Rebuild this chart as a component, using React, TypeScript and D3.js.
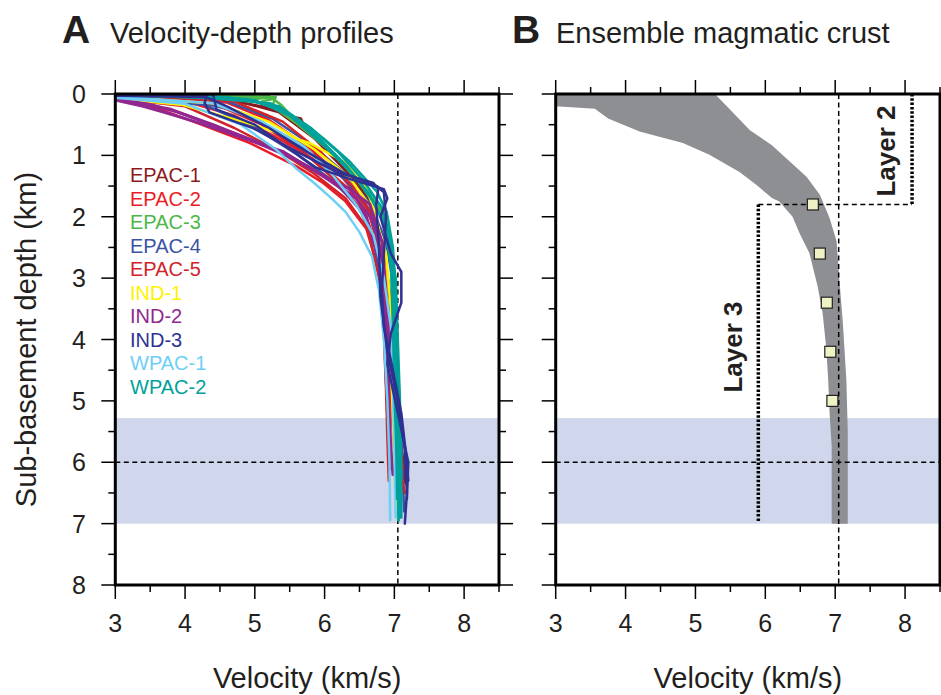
import React from 'react';
import * as d3 from 'd3';

const W = 941;
const H = 695;

type Pt = [number, number]; // [velocity km/s, depth km]

const LEGEND_NAMES = ['EPAC-1', 'EPAC-2', 'EPAC-3', 'EPAC-4', 'EPAC-5', 'IND-1', 'IND-2', 'IND-3', 'WPAC-1', 'WPAC-2'];
const LEGEND_COLORS = ['#8b1a1e', '#ed1c24', '#4cb848', '#3a53a4', '#d2232a', '#fff200', '#92278f', '#2e3192', '#6dcff6', '#00a19a'];

const EPAC1: Pt[][] = [
  [[3.0, 0.03], [4.5, 0.08], [5.2, 0.22], [5.57, 0.38], [5.66, 0.4], [5.74, 0.6], [6.1, 0.98], [6.45, 1.4], [6.68, 1.8], [6.82, 2.4], [6.9, 3.1], [6.92, 4.0], [6.98, 5.0], [7.08, 5.8], [7.12, 6.25]],
  [[3.0, 0.02], [4.7, 0.1], [5.35, 0.3], [5.85, 0.72], [6.3, 1.25], [6.62, 1.72], [6.85, 2.5], [6.95, 3.4], [6.98, 4.4], [7.05, 5.3], [7.13, 6.0], [7.16, 6.35]],
];
const EPAC2: Pt[][] = [
  [[3.0, 0.07], [3.4, 0.15], [4.12, 0.45], [4.93, 0.8], [5.6, 1.18], [5.98, 1.45], [6.3, 1.75], [6.6, 2.2], [6.78, 2.9], [6.85, 3.8], [6.88, 4.7], [6.92, 5.5], [6.94, 6.1]],
  [[3.0, 0.04], [4.0, 0.12], [4.7, 0.35], [5.3, 0.7], [5.9, 1.1], [6.35, 1.55], [6.65, 2.0], [6.82, 2.7], [6.9, 3.6], [6.93, 4.6], [6.98, 5.5], [7.02, 6.3]],
  [[3.0, 0.03], [4.6, 0.14], [5.2, 0.42], [5.75, 0.85], [6.25, 1.35], [6.6, 1.85], [6.85, 2.6], [6.95, 3.5], [7.0, 4.5], [7.05, 5.4], [7.1, 6.4]],
];
const EPAC3: Pt[][] = [
  [[3.0, 0.02], [4.95, 0.02], [5.05, 0.0], [5.26, 0.08], [5.1, 0.12], [5.41, 0.29], [5.75, 0.6], [6.15, 1.0], [6.5, 1.45], [6.75, 1.85], [6.92, 2.3], [6.98, 3.0], [7.0, 4.0], [7.02, 5.0], [7.05, 6.0], [7.06, 6.95]],
  [[3.0, 0.02], [4.7, 0.03], [5.0, 0.05], [5.2, 0.03], [5.38, 0.18], [5.52, 0.35], [5.9, 0.72], [6.3, 1.15], [6.62, 1.6], [6.88, 2.05], [6.98, 2.8], [7.02, 3.8], [7.04, 4.8], [7.08, 5.8], [7.1, 6.5]],
  [[3.0, 0.03], [4.5, 0.04], [5.0, 0.08], [5.3, 0.05], [5.25, 0.2], [5.6, 0.48], [6.05, 0.9], [6.45, 1.35], [6.78, 1.8], [6.95, 2.4], [7.02, 3.3], [7.04, 4.3], [7.06, 5.3], [7.08, 6.2]],
];
const EPAC4: Pt[][] = [
  [[3.0, 0.04], [4.1, 0.1], [4.8, 0.3], [5.35, 0.62], [5.85, 1.0], [6.3, 1.4], [6.62, 1.85], [6.8, 2.5], [6.9, 3.3], [6.95, 4.2], [7.0, 5.1], [7.06, 6.0], [7.08, 6.6]],
  [[3.0, 0.03], [4.6, 0.12], [5.25, 0.4], [5.8, 0.82], [6.3, 1.3], [6.65, 1.78], [6.88, 2.4], [7.0, 3.2], [7.04, 4.2], [7.08, 5.2], [7.12, 6.2], [7.14, 6.8]],
  [[3.0, 0.06], [4.3, 0.18], [5.0, 0.55], [5.6, 0.98], [6.1, 1.4], [6.5, 1.85], [6.72, 2.5], [6.85, 3.4], [6.92, 4.3], [7.0, 5.3], [7.05, 6.2]],
];
const EPAC5: Pt[][] = [
  [[3.0, 0.07], [4.0, 0.2], [4.7, 0.55], [5.3, 0.9], [5.85, 1.3], [6.3, 1.7], [6.62, 2.2], [6.78, 3.0], [6.85, 3.9], [6.88, 4.8], [6.9, 5.6], [6.92, 6.3]],
  [[3.0, 0.05], [4.4, 0.15], [5.1, 0.5], [5.7, 0.95], [6.2, 1.45], [6.58, 1.95], [6.8, 2.7], [6.9, 3.6], [6.95, 4.5], [7.02, 5.4], [7.1, 6.2], [7.15, 6.5]],
  [[3.0, 0.03], [4.7, 0.12], [5.4, 0.45], [5.95, 0.95], [6.4, 1.5], [6.7, 2.0], [6.88, 2.8], [6.96, 3.7], [7.0, 4.6], [7.06, 5.6], [7.12, 6.1]],
];
const IND1: Pt[][] = [
  [[3.0, 0.07], [3.97, 0.18], [4.83, 0.45], [5.79, 0.8], [6.27, 1.1], [6.55, 1.43], [6.68, 1.78], [6.8, 2.3], [6.88, 3.0], [6.93, 4.0], [6.97, 5.0], [7.0, 6.0], [7.02, 6.7]],
  [[3.0, 0.05], [4.4, 0.15], [5.2, 0.45], [5.85, 0.9], [6.35, 1.35], [6.7, 1.9], [6.88, 2.6], [6.95, 3.5], [6.98, 4.5], [7.03, 5.5], [7.06, 6.4]],
];
const IND2: Pt[][] = [
  [[3.0, 0.1], [3.4, 0.2], [3.74, 0.31], [4.2, 0.47], [4.83, 0.72], [5.41, 0.94], [5.88, 1.27], [6.36, 1.55], [6.65, 1.8], [6.82, 2.4], [6.88, 3.2], [6.9, 4.1], [6.92, 5.0], [6.95, 5.8], [6.98, 6.2]],
  [[3.0, 0.08], [3.5, 0.17], [3.9, 0.3], [4.4, 0.5], [5.0, 0.78], [5.55, 1.05], [6.05, 1.38], [6.45, 1.7], [6.72, 2.1], [6.85, 2.9], [6.92, 3.8], [6.98, 4.7], [7.03, 5.6], [7.05, 6.3]],
  [[3.0, 0.08], [3.8, 0.25], [4.5, 0.55], [5.2, 0.85], [5.8, 1.2], [6.25, 1.55], [6.6, 2.0], [6.78, 2.7], [6.85, 3.6], [6.9, 4.6], [6.93, 5.5], [6.96, 6.1]],
];
const IND3: Pt[][] = [
  [[3.0, 0.01], [4.31, 0.0], [4.28, 0.15], [4.35, 0.3], [4.98, 0.56], [5.6, 0.94], [6.17, 1.27], [6.7, 1.45], [6.77, 1.55], [6.74, 1.8], [6.78, 2.5], [6.8, 3.3], [6.9, 4.2], [7.05, 5.0], [7.15, 5.8], [7.18, 6.5], [7.15, 7.0]],
  [[3.0, 0.02], [4.2, 0.02], [4.4, 0.0], [4.45, 0.25], [5.0, 0.5], [5.88, 1.2], [6.4, 1.4], [6.85, 1.55], [6.9, 1.7], [6.8, 2.0], [6.95, 2.6], [7.1, 2.9], [7.1, 3.4], [6.95, 3.9], [6.9, 4.4], [7.05, 5.2], [7.2, 6.0], [7.18, 6.6]],
  [[3.0, 0.03], [4.3, 0.05], [4.6, 0.2], [5.2, 0.55], [5.8, 0.98], [6.3, 1.3], [6.75, 1.5], [6.85, 1.6], [6.88, 2.0], [6.85, 2.6], [6.82, 3.2], [6.85, 3.8], [6.98, 4.5], [7.1, 5.2], [7.18, 6.0], [7.2, 6.3]],
];
const WPAC1: Pt[][] = [
  [[3.0, 0.06], [4.0, 0.16], [4.8, 0.5], [5.3, 0.9], [5.6, 1.22], [5.85, 1.45], [6.1, 1.7], [6.3, 1.92], [6.5, 2.25], [6.68, 2.65], [6.78, 3.2], [6.85, 4.0], [6.9, 5.0], [6.93, 6.0], [6.94, 6.94]],
  [[3.0, 0.04], [4.4, 0.15], [5.1, 0.45], [5.7, 0.85], [6.1, 1.3], [6.45, 1.8], [6.7, 2.3], [6.85, 3.0], [6.95, 3.8], [6.98, 4.8], [7.0, 5.8], [7.02, 6.9]],
];
const WPAC2: Pt[][] = [
  [[3.0, 0.0], [4.36, 0.07], [5.22, 0.15], [5.6, 0.4], [5.98, 0.72], [6.36, 1.1], [6.75, 1.59], [6.89, 1.92], [6.98, 2.5], [7.02, 3.2], [7.0, 4.0], [7.02, 5.0], [7.05, 6.0], [7.06, 6.95]],
  [[3.0, 0.01], [4.6, 0.05], [5.35, 0.2], [5.8, 0.55], [6.2, 0.95], [6.55, 1.4], [6.82, 1.85], [6.95, 2.4], [7.0, 3.2], [7.02, 4.2], [7.05, 5.2], [7.08, 6.2], [7.08, 6.9]],
  [[3.0, 0.02], [4.9, 0.08], [5.45, 0.3], [5.9, 0.7], [6.3, 1.15], [6.62, 1.6], [6.85, 2.1], [6.95, 2.8], [6.98, 3.8], [7.0, 4.8], [7.03, 5.8], [7.04, 6.6]],
  [[3.0, 0.0], [4.2, 0.03], [5.0, 0.1], [5.5, 0.35], [6.0, 0.85], [6.4, 1.3], [6.7, 1.75], [6.9, 2.2], [7.02, 3.0], [7.05, 4.0], [7.08, 5.0], [7.1, 6.0], [7.1, 6.9]],
];
const PROFILES: Pt[][][] = [EPAC1, EPAC2, EPAC3, EPAC4, EPAC5, IND1, IND2, IND3, WPAC1, WPAC2];
const DRAW_ORDER = [0, 1, 2, 3, 4, 5, 6, 8, 9, 7];

// Ensemble envelope (panel B): left and right bounds, top to bottom
const ENV_LEFT: Pt[] = [[3.0, 0.0], [3.0, 0.2], [3.56, 0.24], [3.75, 0.4], [4.2, 0.61], [4.82, 0.8], [5.2, 0.99], [5.63, 1.27], [5.87, 1.48], [6.1, 1.7], [6.2, 1.75], [6.39, 2.0], [6.49, 2.27], [6.63, 2.59], [6.75, 3.14], [6.82, 3.57], [6.87, 4.12], [6.9, 4.66], [6.92, 5.2], [6.95, 5.74], [6.95, 7.0]];
const ENV_RIGHT: Pt[] = [[5.28, 0.0], [5.78, 0.59], [6.09, 0.83], [6.59, 1.35], [6.78, 1.64], [6.92, 2.02], [7.02, 2.4], [7.06, 3.03], [7.11, 3.73], [7.16, 4.66], [7.18, 5.5], [7.18, 7.0]];

const SQUARE_V = [6.68, 6.78, 6.88, 6.93, 6.96];
const SQUARE_D = [1.8, 2.6, 3.4, 4.2, 5.0];

const X_TICKS = [3, 4, 5, 6, 7, 8];
const X_MINOR = [3.5, 4.5, 5.5, 6.5, 7.5, 8.5];
const Y_TICKS = [0, 1, 2, 3, 4, 5, 6, 7, 8];
const Y_MINOR = [0.5, 1.5, 2.5, 3.5, 4.5, 5.5, 6.5, 7.5];

const BAND_DEPTH = [5.28, 7.0];
const REF_V = 7.05;
const REF_D = 6.0;
const LAYER_BOUND_D = 1.8;
const LAYER2_V = 8.1;
const LAYER3_V = 5.9;
const LAYER3_BOTTOM = 6.97;

const FONT = '"Liberation Sans", Arial, Helvetica, sans-serif';
const TXT = '#231f20';

export default function App() {
  const y = d3.scaleLinear().domain([0, 8]).range([94, 585]);
  const xA = d3.scaleLinear().domain([3, 8.5]).range([115.3, 499]);
  const xB = d3.scaleLinear().domain([3, 8.5]).range([555.7, 940]);

  const ticks = (x: d3.ScaleLinear<number, number>, key: string) => {
    const [x0, x1] = x.range();
    const [y0, y1] = y.range();
    const els: any[] = [];
    X_TICKS.forEach((v) => {
      els.push(<line key={`${key}b${v}`} x1={x(v)} x2={x(v)} y1={y1} y2={y1 + 14} />);
      els.push(<line key={`${key}t${v}`} x1={x(v)} x2={x(v)} y1={y0} y2={y0 - 14} />);
    });
    X_MINOR.forEach((v) => {
      els.push(<line key={`${key}bm${v}`} x1={x(v)} x2={x(v)} y1={y1} y2={y1 + 7} />);
      els.push(<line key={`${key}tm${v}`} x1={x(v)} x2={x(v)} y1={y0} y2={y0 - 7} />);
    });
    Y_TICKS.forEach((d) => {
      els.push(<line key={`${key}l${d}`} x1={x0} x2={x0 - 14} y1={y(d)} y2={y(d)} />);
      els.push(<line key={`${key}r${d}`} x1={x1} x2={x1 + 14} y1={y(d)} y2={y(d)} />);
    });
    Y_MINOR.forEach((d) => {
      els.push(<line key={`${key}lm${d}`} x1={x0} x2={x0 - 7} y1={y(d)} y2={y(d)} />);
      els.push(<line key={`${key}rm${d}`} x1={x1} x2={x1 + 7} y1={y(d)} y2={y(d)} />);
    });
    return <g stroke="#000" strokeWidth={1.5}>{els}</g>;
  };

  const lineA = d3.line<Pt>().x((p) => xA(p[0])).y((p) => y(p[1]));
  const envPts: Pt[] = [...ENV_LEFT, ...ENV_RIGHT.slice().reverse()];
  const envPath = d3.line<Pt>().x((p) => xB(p[0])).y((p) => y(p[1]))(envPts) + 'Z';

  const plotRect = (x: d3.ScaleLinear<number, number>) => {
    const [x0, x1] = x.range();
    const [y0, y1] = y.range();
    return { x: x0, y: y0, width: x1 - x0, height: y1 - y0 };
  };
  const rA = plotRect(xA);
  const rB = plotRect(xB);

  return (
    <div style={{ position: 'fixed', left: 0, top: 0, width: W, height: H, background: '#fff' }}>
      <svg width={W} height={H} viewBox={`0 0 ${W} ${H}`} style={{ display: 'block', fontFamily: FONT }}>
        <defs>
          <clipPath id="clipA"><rect {...rA} /></clipPath>
          <clipPath id="clipB"><rect {...rB} /></clipPath>
        </defs>
        <rect x={0} y={0} width={W} height={H} fill="#fff" />

        {/* Titles */}
        <text x={62} y={43} fontSize={39} fontWeight="bold" fill={TXT}>A</text>
        <text x={110} y={43} fontSize={29} fill={TXT}>Velocity-depth profiles</text>
        <text x={512} y={43} fontSize={39} fontWeight="bold" fill={TXT}>B</text>
        <text x={556} y={43} fontSize={29} fill={TXT}>Ensemble magmatic crust</text>

        {/* Panel A */}
        <g clipPath="url(#clipA)">
          <rect x={rA.x} y={y(BAND_DEPTH[0])} width={rA.width} height={y(BAND_DEPTH[1]) - y(BAND_DEPTH[0])} fill="#d0d6eb" />
          <line x1={xA(REF_V)} x2={xA(REF_V)} y1={y(0)} y2={y(8)} stroke="#000" strokeWidth={1.5} strokeDasharray="5 3.5" />
          <line x1={xA(3)} x2={xA(8.5)} y1={y(REF_D)} y2={y(REF_D)} stroke="#000" strokeWidth={1.5} strokeDasharray="5 3.5" />
          {DRAW_ORDER.map((ci) => (
            <g key={ci} fill="none" stroke={LEGEND_COLORS[ci]} strokeWidth={ci === 6 ? 3 : 2.5} strokeLinejoin="round" strokeLinecap="round">
              {PROFILES[ci].map((p, j) => <path key={j} d={lineA(p) || ''} />)}
            </g>
          ))}
        </g>
        {LEGEND_NAMES.map((n, i) => (
          <text key={n} x={130} y={182 + i * 23.5} fontSize={20} fill={LEGEND_COLORS[i]}>{n}</text>
        ))}
        {ticks(xA, 'A')}
        <rect {...rA} fill="none" stroke="#000" strokeWidth={3} />

        {/* Tick labels and axis titles */}
        {Y_TICKS.map((d) => (
          <text key={d} x={86} y={y(d)} dy="0.36em" textAnchor="end" fontSize={25} fill={TXT}>{d}</text>
        ))}
        {X_TICKS.map((v) => (
          <text key={'xa' + v} x={xA(v)} y={632} textAnchor="middle" fontSize={25} fill={TXT}>{v}</text>
        ))}
        {X_TICKS.map((v) => (
          <text key={'xb' + v} x={xB(v)} y={632} textAnchor="middle" fontSize={25} fill={TXT}>{v}</text>
        ))}
        <text x={(rA.x + rA.x + rA.width) / 2} y={688} textAnchor="middle" fontSize={29} fill={TXT}>Velocity (km/s)</text>
        <text x={(rB.x + rB.x + rB.width) / 2} y={688} textAnchor="middle" fontSize={29} fill={TXT}>Velocity (km/s)</text>
        <text transform={`translate(36,${(y(0) + y(8)) / 2}) rotate(-90)`} textAnchor="middle" fontSize={29} fill={TXT}>Sub-basement depth (km)</text>

        {/* Panel B */}
        <g clipPath="url(#clipB)">
          <rect x={rB.x} y={y(BAND_DEPTH[0])} width={rB.width} height={y(BAND_DEPTH[1]) - y(BAND_DEPTH[0])} fill="#d0d6eb" />
          <path d={envPath} fill="#8e8f93" stroke="none" />
          <line x1={xB(REF_V)} x2={xB(REF_V)} y1={y(0)} y2={y(8)} stroke="#000" strokeWidth={1.5} strokeDasharray="5 3.5" />
          <line x1={xB(3)} x2={xB(8.5)} y1={y(REF_D)} y2={y(REF_D)} stroke="#000" strokeWidth={1.5} strokeDasharray="5 3.5" />
          <line x1={xB(LAYER3_V)} x2={xB(LAYER2_V)} y1={y(LAYER_BOUND_D)} y2={y(LAYER_BOUND_D)} stroke="#000" strokeWidth={1.5} strokeDasharray="5 3.5" />
          <line x1={xB(LAYER2_V)} x2={xB(LAYER2_V)} y1={y(0)} y2={y(LAYER_BOUND_D)} stroke="#000" strokeWidth={3.5} strokeDasharray="2.5 1.8" />
          <line x1={xB(LAYER3_V)} x2={xB(LAYER3_V)} y1={y(LAYER_BOUND_D)} y2={y(LAYER3_BOTTOM)} stroke="#000" strokeWidth={3.5} strokeDasharray="2.5 1.8" />
          {SQUARE_V.map((v, i) => (
            <rect key={i} x={xB(v) - 5.5} y={y(SQUARE_D[i]) - 5.5} width={11} height={11} fill="#eff2c4" stroke="#231f20" strokeWidth={1.2} />
          ))}
        </g>
        <text transform={`translate(895,151) rotate(-90)`} textAnchor="middle" fontSize={26} fontWeight="bold" fill={TXT}>Layer 2</text>
        <text transform={`translate(742,347) rotate(-90)`} textAnchor="middle" fontSize={26} fontWeight="bold" fill={TXT}>Layer 3</text>
        {ticks(xB, 'B')}
        <rect {...rB} fill="none" stroke="#000" strokeWidth={3} />
      </svg>
    </div>
  );
}
